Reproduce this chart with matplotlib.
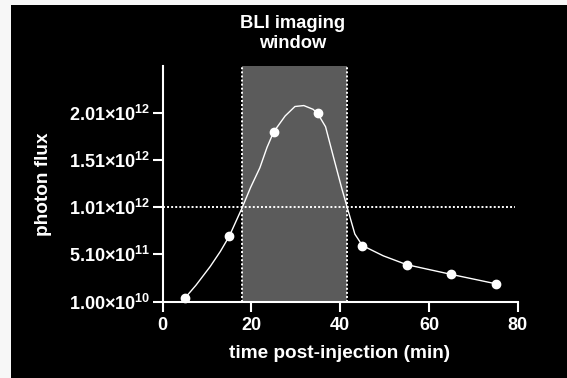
import matplotlib
matplotlib.use("Agg")
import matplotlib.pyplot as plt

# ---- data ----
time_points = [5, 15, 25, 35, 45, 55, 65, 75]
flux_points = [4.6e10, 7.03e11, 1.81e12, 2.01e12, 6.04e11, 4.01e11, 2.98e11, 1.99e11]

curve_x = [5, 7.5, 10.7, 13, 15, 17.9, 19.8, 21.9, 23.5, 25, 27.6, 29.8, 31.8, 33.9,
           35, 36.7, 38.5, 40.3, 41.6, 43.3, 45, 49.7, 55, 65, 75]
curve_y = [4.6e10, 1.83e11, 3.81e11, 5.42e11, 7.03e11, 1.005e12, 1.22e12, 1.43e12,
           1.645e12, 1.81e12, 1.98e12, 2.08e12, 2.09e12, 2.05e12, 2.0e12, 1.865e12,
           1.54e12, 1.22e12, 1.005e12, 7.26e11, 6.04e11, 4.95e11, 4.01e11, 2.98e11, 1.99e11]

window_start, window_end = 17.9, 41.6
threshold = 1.01e12

x_ticks = [0, 20, 40, 60, 80]
y_ticks = [1.00e10, 5.10e11, 1.01e12, 1.51e12, 2.01e12]
y_tick_labels = [r"1.00×10$^{10}$", r"5.10×10$^{11}$", r"1.01×10$^{12}$",
                 r"1.51×10$^{12}$", r"2.01×10$^{12}$"]

title_lines = ["BLI imaging", "window"]
x_label = "time post-injection (min)"
y_label = "photon flux"

# ---- style ----
plt.rcParams["font.family"] = ["Liberation Sans", "DejaVu Sans"]
plt.rcParams["font.weight"] = "bold"
plt.rcParams["mathtext.fontset"] = "custom"
plt.rcParams["mathtext.rm"] = "Liberation Sans:bold"
plt.rcParams["mathtext.it"] = "Liberation Sans:bold"
plt.rcParams["mathtext.bf"] = "Liberation Sans:bold"
plt.rcParams["mathtext.default"] = "rm"

W, H = 567, 378
fig = plt.figure(figsize=(W / 100, H / 100), dpi=100)
fig.patch.set_facecolor("#f7f7f7")
# black panel as a background axes
bg = fig.add_axes([11 / W, 0, 1 - 11 / W, 1 - 5 / H], zorder=-10)
bg.set_facecolor("black")
bg.set_xticks([])
bg.set_yticks([])
for s in bg.spines.values():
    s.set_visible(False)

left, right = 162.7, 517.7
bottom, top = 301.5, 65.7
ax = fig.add_axes([left / W, 1 - bottom / H, (right - left) / W, (bottom - top) / H], zorder=1)
ax.set_facecolor("none")

ymin = 1.0e10
ymax = 1.0e10 + (bottom - top) / 47.1 * 5e11
ax.set_xlim(0, 80)
ax.set_ylim(ymin, ymax)

# shaded imaging window
ax.axvspan(window_start, window_end, color="#5b5b5b", lw=0, zorder=1)
for xv in (window_start, window_end):
    ax.plot([xv, xv], [ymin, ymax], color="white", lw=1.4, ls=(0, (1, 1.1)), zorder=2)
ax.plot([0, 79.5], [threshold, threshold], color="white", lw=1.4, ls=(0, (1, 1.1)), zorder=2)

# curve and points
ax.plot(curve_x, curve_y, color="white", lw=1.0, zorder=3)
ax.plot(time_points, flux_points, "o", color="white", ms=6, mec="white", zorder=4, clip_on=False)

for s in ("top", "right"):
    ax.spines[s].set_visible(False)
for s in ("left", "bottom"):
    ax.spines[s].set_color("white")
    ax.spines[s].set_linewidth(1.5)

ax.set_xticks(x_ticks)
ax.set_xticklabels([str(v) for v in x_ticks])
ax.set_yticks(y_ticks)
ax.set_yticklabels(y_tick_labels)
ax.tick_params(axis="both", colors="white", width=1.5, length=7.2, labelsize=13)
ax.tick_params(axis="x", pad=4)
ax.tick_params(axis="y", pad=1.8)
for lab in ax.get_xticklabels() + ax.get_yticklabels():
    lab.set_fontweight("bold")

fig.text(340 / W, 1 - 354 / H, x_label, color="white", fontsize=13.7,
         fontweight="bold", ha="center", va="center")
fig.text(43 / W, 1 - 184 / H, y_label, color="white", fontsize=13.7,
         fontweight="bold", ha="center", va="center", rotation=90)
fig.text(293 / W, 1 - 28 / H, title_lines[0], color="white", fontsize=13.2,
         fontweight="bold", ha="center", va="baseline")
fig.text(293 / W, 1 - 48.3 / H, title_lines[1], color="white", fontsize=13.2,
         fontweight="bold", ha="center", va="baseline")

fig.savefig("out.png", dpi=100, facecolor=fig.get_facecolor())
